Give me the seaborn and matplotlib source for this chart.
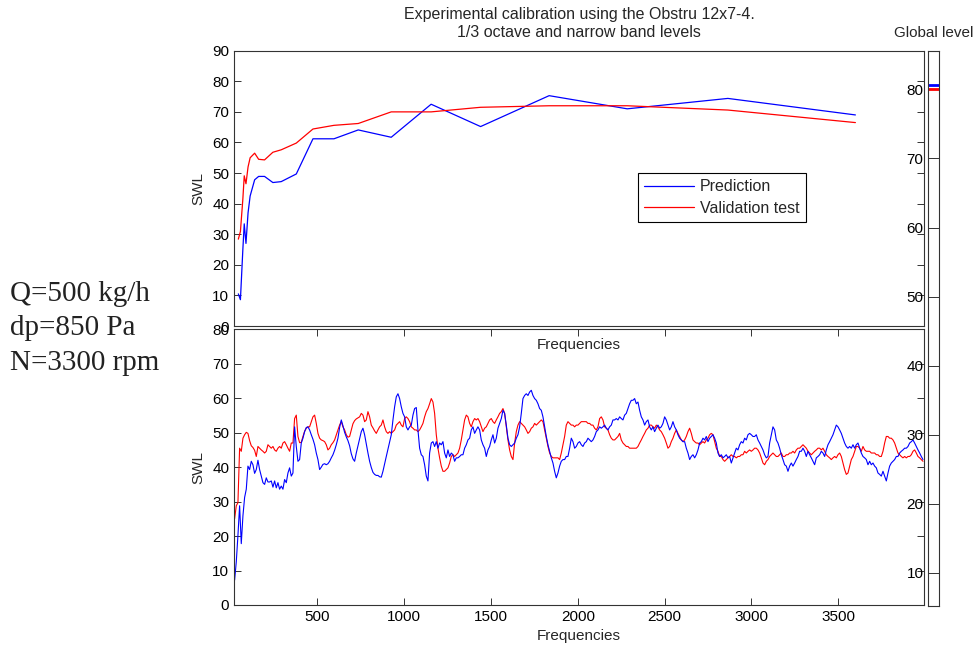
import numpy as np
import pandas as pd
import matplotlib
matplotlib.use("Agg")
import matplotlib.pyplot as plt
import seaborn as sns

# ---------- datos: bandas de 1/3 de octava ----------
oct_freq = [44, 56, 70, 78, 88, 100, 112, 138, 161, 195, 243, 291, 378, 474,
            595, 735, 925, 1155, 1440, 1835, 2285, 2865, 3600]
oct_pred = [10.5, 8.6, 25, 33.4, 27, 37, 42.5, 47.8, 48.9, 48.9, 46.9, 47.2, 49.7,
            61.2, 61.2, 64.1, 61.7, 72.5, 65.2, 75.3, 71, 74.4, 69]
oct_test = [28.4, 30.9, 41.5, 49.1, 46.5, 52, 55, 56.5, 54.5, 54.3, 56.8, 57.6, 59.8,
            64.4, 65.6, 66.2, 70, 70, 71.5, 72, 72, 70.6, 66.5]

# ---------- datos: banda estrecha (resolucion ~9.6 Hz) ----------
# 22 Hz - 1000 Hz
pred_a = [7.2, 12.5, 20.2, 28.8, 17.8, 25.9, 31.2, 33.6, 40.3, 39.3,
          41.7, 40.7, 38.2, 39.3, 42.0, 39.3, 37.4, 35.5, 35.0, 36.9,
          35.7, 35.7, 36.0, 34.2, 36.0, 34.0, 35.5, 33.6, 34.5, 33.6,
          36.4, 35.5, 38.3, 39.8, 37.4, 38.3, 51.7, 46.0, 41.7, 42.2,
          47.0, 48.4, 50.3, 51.5, 51.7, 50.8, 49.4, 48.1, 46.5, 44.1,
          42.2, 39.3, 40.0, 40.8, 41.0, 40.7, 41.0, 41.7, 42.7, 43.6,
          44.9, 46.5, 48.4, 51.5, 53.7, 52.0, 50.1, 48.8, 47.7, 46.2,
          43.9, 42.4, 41.7, 44.1, 46.2, 48.2, 50.3, 51.3, 49.4, 46.7,
          44.1, 41.7, 39.9, 38.5, 37.9, 37.6, 37.6, 37.2, 37.1, 38.8,
          41.0, 43.1, 45.2, 47.2, 49.4, 53.7, 57.5, 60.4, 61.3, 59.9,
          57.5, 55.6]
test_a = [25.0, 28.8, 29.7, 45.5, 44.6, 48.4, 49.4, 50.1, 49.8, 47.7,
          46.2, 45.7, 44.9, 43.1, 46.0, 45.5, 45.0, 44.6, 44.1, 44.6,
          46.5, 46.0, 45.5, 46.0, 45.0, 44.6, 45.5, 46.0, 45.5, 47.0,
          47.4, 46.5, 45.5, 44.6, 47.0, 47.0, 54.1, 55.1, 48.9, 47.1,
          47.2, 48.9, 50.4, 51.3, 51.7, 51.7, 53.2, 54.6, 55.1, 52.7,
          49.8, 48.4, 47.9, 47.7, 47.4, 46.5, 45.0, 45.5, 46.5, 47.1,
          47.9, 49.4, 50.8, 52.2, 53.2, 51.7, 50.8, 49.4, 48.7, 48.9,
          50.8, 52.6, 53.5, 54.0, 54.3, 54.6, 55.6, 55.1, 53.2, 53.7,
          56.1, 54.6, 52.2, 51.4, 50.5, 49.8, 50.8, 51.7, 52.2, 53.7,
          51.7, 50.3, 49.8, 50.3, 49.8, 50.3, 50.8, 52.2, 52.7, 53.2,
          52.2, 51.7]
# 1000 Hz - 2000 Hz
pred_b = [54.6, 51.7, 50.8, 51.7, 52.2, 55.1, 57.0, 57.3, 50.8, 45.5,
          43.6, 43.1, 40.7, 37.4, 36.0, 44.1, 47.0, 47.4, 46.0, 47.4,
          45.5, 47.0, 46.5, 47.4, 44.1, 42.7, 45.0, 43.1, 44.1, 43.6,
          41.7, 42.7, 42.7, 43.1, 43.6, 43.6, 45.5, 46.5, 47.9, 48.4,
          50.8, 51.7, 49.8, 50.8, 51.7, 50.8, 47.9, 46.5, 45.5, 43.1,
          45.0, 46.0, 47.9, 49.4, 47.0, 48.4, 51.3, 52.7, 54.1, 56.5,
          55.6, 52.2, 48.4, 46.5, 46.0, 46.5, 47.0, 48.4, 49.4, 51.7,
          55.6, 59.9, 60.8, 61.3, 60.8, 61.8, 62.3, 60.8, 59.9, 59.4,
          58.4, 57.0, 56.5, 54.6, 51.7, 48.9, 46.5, 44.6, 42.7, 41.2,
          38.8, 36.9, 38.3, 40.3, 41.7, 42.2, 42.2, 43.1, 43.1, 45.5,
          48.4, 47.4, 45.5, 46.0, 47.0]
test_b = [54.1, 54.6, 54.1, 53.2, 51.7, 51.3, 50.8, 50.8, 50.3, 50.8,
          51.7, 52.7, 54.6, 56.1, 57.0, 58.4, 59.9, 58.9, 55.6, 49.4,
          45.5, 42.7, 40.3, 38.8, 38.8, 39.3, 39.8, 41.2, 43.1, 43.6,
          43.1, 43.6, 44.1, 45.5, 47.9, 50.8, 53.7, 55.1, 54.6, 52.7,
          51.7, 53.2, 54.1, 53.7, 54.1, 53.2, 51.7, 50.3, 51.3, 51.7,
          52.7, 53.7, 54.1, 53.2, 52.7, 53.7, 54.6, 55.6, 56.1, 57.0,
          55.6, 51.7, 47.9, 45.0, 43.1, 42.2, 47.0, 50.3, 52.2, 53.2,
          52.7, 52.2, 51.7, 50.8, 49.8, 50.3, 51.3, 51.7, 52.7, 52.2,
          52.7, 53.2, 53.7, 53.2, 50.8, 48.4, 46.0, 44.1, 43.1, 42.7,
          42.7, 42.7, 42.7, 42.2, 44.1, 46.5, 48.9, 52.2, 53.2, 52.7,
          52.2, 52.2, 51.7, 52.2, 52.2]
# 2000 Hz - 3000 Hz
pred_c = [47.4, 46.5, 46.0, 47.0, 47.4, 48.4, 47.9, 47.4, 47.9, 48.9,
          50.3, 50.8, 51.7, 51.3, 51.7, 52.2, 51.3, 50.8, 51.7, 52.2,
          53.7, 53.7, 54.1, 53.7, 54.6, 54.1, 53.7, 55.1, 55.6, 57.0,
          58.4, 59.4, 59.4, 59.9, 58.4, 58.9, 56.5, 54.6, 53.7, 52.2,
          53.2, 53.7, 51.7, 50.8, 51.7, 50.3, 51.3, 52.2, 51.3, 51.7,
          52.7, 54.6, 53.7, 52.2, 50.8, 51.7, 53.2, 51.7, 50.8, 49.4,
          48.4, 47.9, 47.4, 47.4, 45.5, 44.1, 42.2, 43.1, 43.6, 42.7,
          43.6, 45.0, 47.0, 47.4, 48.4, 47.9, 48.9, 47.4, 48.4, 48.9,
          49.4, 48.4, 47.0, 44.1, 43.1, 43.6, 42.7, 43.1, 43.6, 42.7,
          43.1, 41.2, 42.7, 44.1, 45.5, 45.0, 46.5, 47.4, 47.0, 48.4,
          47.9, 49.4, 49.8, 49.4, 48.9]
test_c = [52.7, 53.2, 53.2, 53.2, 53.2, 52.7, 52.7, 52.2, 52.2, 51.3,
          50.8, 51.7, 54.1, 54.6, 53.7, 51.7, 51.3, 50.8, 49.4, 48.4,
          47.9, 47.9, 48.4, 48.9, 49.8, 47.9, 47.0, 46.5, 46.0, 46.0,
          45.5, 45.5, 45.5, 45.5, 45.5, 46.0, 47.0, 47.9, 48.9, 49.8,
          50.8, 51.3, 52.2, 52.2, 51.7, 51.3, 52.2, 51.7, 50.8, 50.3,
          49.4, 48.4, 47.0, 45.5, 46.0, 47.4, 48.4, 49.8, 50.8, 49.8,
          48.9, 47.9, 47.4, 47.9, 48.9, 50.3, 51.3, 49.8, 47.9, 47.4,
          47.0, 47.0, 46.5, 47.0, 47.4, 47.0, 47.9, 48.4, 49.4, 49.8,
          49.4, 47.4, 45.5, 44.6, 43.1, 43.1, 42.2, 41.7, 42.2, 42.7,
          43.1, 43.6, 43.1, 43.1, 42.7, 43.1, 43.1, 43.6, 43.6, 44.6,
          44.1, 44.6, 45.0, 44.6, 45.0]
# 3000 Hz - 4000 Hz
pred_d = [48.9, 49.4, 47.9, 47.0, 46.0, 45.0, 43.6, 42.7, 43.1, 47.0,
          49.4, 51.7, 50.8, 47.9, 47.0, 45.5, 43.6, 42.2, 40.7, 40.3,
          38.8, 40.3, 41.2, 40.3, 41.2, 42.2, 43.1, 44.6, 44.6, 45.5,
          44.6, 43.1, 44.6, 43.6, 42.7, 41.7, 40.7, 42.7, 43.1, 43.6,
          44.6, 44.1, 43.1, 45.0, 46.5, 47.4, 48.4, 49.4, 50.8, 52.2,
          51.7, 50.8, 49.8, 48.4, 47.0, 46.0, 45.5, 46.0, 45.5, 46.5,
          45.5, 46.5, 47.0, 45.5, 44.1, 43.1, 42.7, 42.2, 40.7, 41.7,
          40.7, 41.2, 40.3, 39.8, 38.3, 37.9, 37.4, 38.8, 37.4, 36.0,
          38.3, 40.3, 41.2, 41.7, 42.2, 43.1, 43.1, 44.1, 44.6, 45.0,
          45.5, 45.5, 46.0, 47.0, 47.4, 47.9, 47.0, 46.0, 45.0, 44.1,
          43.1, 42.2]
test_d = [45.5, 45.5, 45.0, 44.1, 42.7, 41.2, 40.7, 41.7, 42.2, 43.1,
          43.6, 44.1, 43.6, 43.1, 43.1, 43.6, 44.1, 43.1, 43.1, 43.6,
          43.6, 44.1, 44.1, 44.6, 44.1, 45.0, 45.5, 45.5, 46.0, 46.5,
          46.0, 45.5, 44.6, 44.1, 43.6, 44.1, 44.6, 45.0, 45.5, 45.5,
          45.0, 45.5, 44.6, 43.6, 43.1, 42.7, 42.2, 42.7, 43.1, 42.7,
          43.6, 44.1, 43.1, 41.2, 39.3, 37.9, 38.3, 40.3, 42.2, 43.1,
          44.6, 46.0, 46.0, 45.5, 44.6, 46.0, 45.0, 44.6, 44.6, 44.6,
          44.1, 44.1, 44.1, 43.6, 43.6, 43.1, 43.1, 44.6, 47.0, 48.9,
          48.9, 48.4, 48.4, 47.9, 47.0, 45.5, 44.1, 43.6, 43.1, 42.7,
          43.1, 42.7, 43.1, 43.1, 43.6, 44.6, 45.0, 44.1, 43.1, 42.7,
          42.2, 41.7]

nb_pred = pred_a + pred_b + pred_c + pred_d
nb_test = test_a + test_b + test_c + test_d
nb_freq = np.linspace(22.5, 3989.4, len(nb_pred))
assert len(nb_pred) == len(nb_test)

# nivel global
global_pred = 80.7
global_test = 80.1

condiciones = ["Q=500 kg/h", "dp=850 Pa", "N=3300 rpm"]

AZUL = "#0000FF"
ROJO = "#FF0000"
EJE = "#333333"
FS = 11

# ---------- estilo ----------
sns.set_theme(style="white")
plt.rcParams['font.family'] = ['Liberation Sans', 'DejaVu Sans']
plt.rcParams['axes.edgecolor'] = EJE
plt.rcParams['axes.linewidth'] = 0.8

W, H = 977, 647
fig = plt.figure(figsize=(W / 100, H / 100), dpi=100)

def rect(x0, y0, x1, y1):
    return [x0 / W, 1 - y1 / H, (x1 - x0) / W, (y1 - y0) / H]

ax_nb = fig.add_axes(rect(234, 329.3, 924.3, 605))
ax_oct = fig.add_axes(rect(234, 50.7, 924.3, 326))
ax_g = fig.add_axes(rect(928.3, 50.7, 939.3, 606))

def estilo_matlab(ax, largo=5):
    ax.tick_params(direction='in', length=largo, width=0.7, color=EJE,
                   top=True, bottom=True, left=True, right=True,
                   labelsize=FS, labelcolor='black', pad=3.5)
    for s in ax.spines.values():
        s.set_color(EJE)
        s.set_linewidth(0.8)

# ---------- 1/3 octava ----------
df_oct = pd.DataFrame({'f': oct_freq, 'pred': oct_pred, 'test': oct_test})
sns.lineplot(data=df_oct, x='f', y='pred', color=AZUL, lw=0.9, ax=ax_oct,
             label='Prediction', sort=False)
sns.lineplot(data=df_oct, x='f', y='test', color=ROJO, lw=0.9, ax=ax_oct,
             label='Validation test', sort=False)
ax_oct.set_xlim(19, 3997)
ax_oct.set_ylim(0, 90)
ax_oct.set_yticks(range(0, 91, 10))
ax_oct.set_xticks([])
ax_oct.set_ylabel('SWL', fontsize=FS, labelpad=5)
ax_oct.set_xlabel('Frequencies', fontsize=FS, labelpad=9)
ax_oct.set_title('Experimental calibration using the Obstru 12x7-4.\n'
                 '1/3 octave and narrow band levels', fontsize=11.5, pad=10,
                 linespacing=1.2)
estilo_matlab(ax_oct)
leg = ax_oct.legend(loc='upper left', bbox_to_anchor=(637.6 / W, 1 - 173 / H),
                    bbox_transform=fig.transFigure, borderaxespad=0,
                    fontsize=11.5, frameon=True, fancybox=False, framealpha=1,
                    edgecolor='black', handlelength=3.1, handletextpad=0.4,
                    labelspacing=0.4, borderpad=0.4)
leg.get_frame().set_linewidth(0.8)

# ---------- banda estrecha ----------
df_nb = pd.DataFrame({'f': nb_freq, 'pred': nb_pred, 'test': nb_test})
sns.lineplot(data=df_nb, x='f', y='test', color=ROJO, lw=0.8, ax=ax_nb,
             legend=False, sort=False)
sns.lineplot(data=df_nb, x='f', y='pred', color=AZUL, lw=0.8, ax=ax_nb,
             legend=False, sort=False)
ax_nb.set_xlim(19, 3997)
ax_nb.set_ylim(0, 80)
ax_nb.set_xticks(range(500, 3501, 500))
ax_nb.set_yticks(range(0, 81, 10))
ax_nb.set_xlabel('Frequencies', fontsize=FS)
ax_nb.set_ylabel('SWL', fontsize=FS, labelpad=5)
estilo_matlab(ax_nb)

# ---------- nivel global ----------
ax_g.axhline(global_pred, color=AZUL, lw=2.0)
ax_g.axhline(global_test, color=ROJO, lw=2.0)
ax_g.set_xlim(0, 1)
ax_g.set_ylim(5.2, 85.6)
ax_g.set_xticks([])
ax_g.set_yticks(range(10, 81, 10))
estilo_matlab(ax_g, largo=4)
ax_g.tick_params(labelright=False, labelleft=True)
ax_g.set_title('Global level', fontsize=FS, pad=10)

# ---------- condiciones de ensayo ----------
for i, txt in enumerate(condiciones):
    fig.text(10 / W, 1 - (300.7 + 34.7 * i) / H, txt, fontsize=21,
             family=['Liberation Serif', 'DejaVu Serif'], va='baseline',
             ha='left', color='#222222')

fig.savefig('out.png', dpi=100)
